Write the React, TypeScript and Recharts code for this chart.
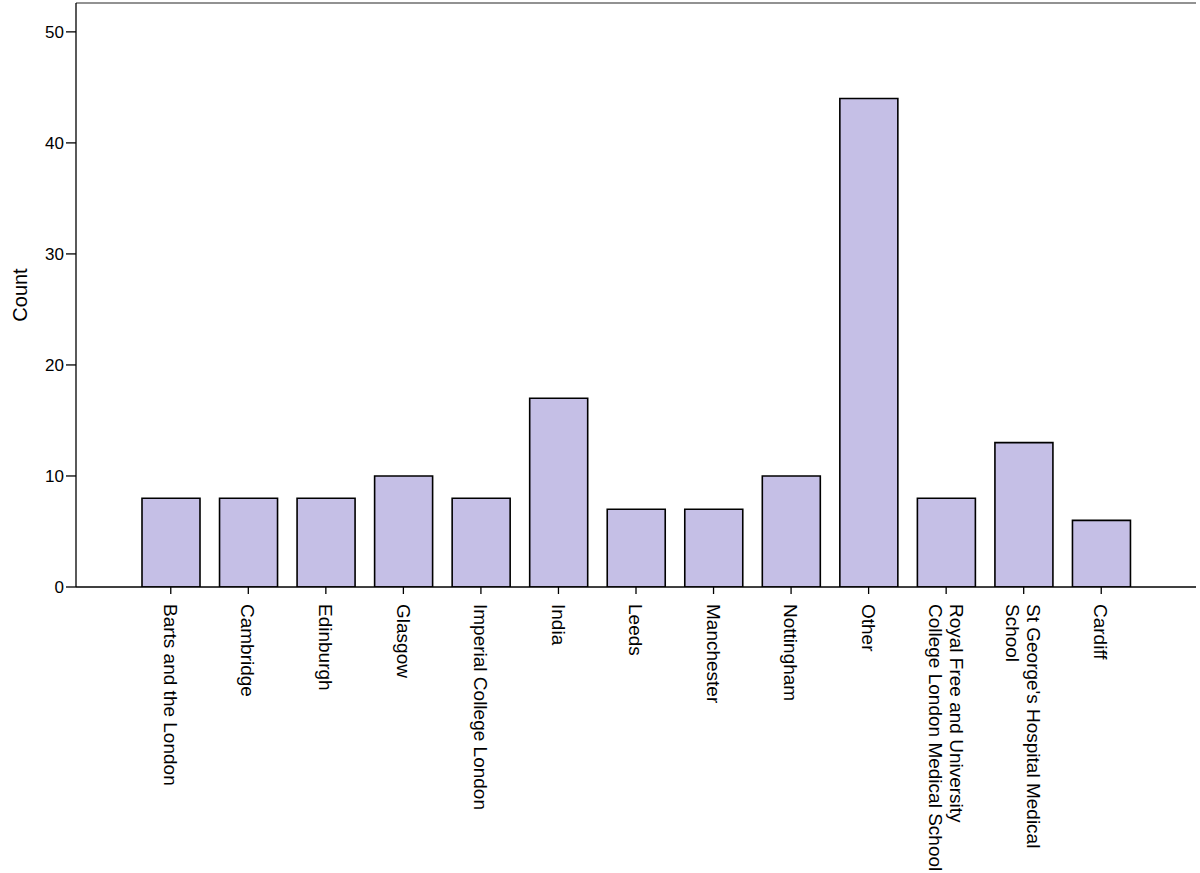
import React from "react";
import { BarChart, Bar, XAxis, YAxis, ReferenceLine } from "recharts";

const categories: string[] = [
  "Barts and the London",
  "Cambridge",
  "Edinburgh",
  "Glasgow",
  "Imperial College London",
  "India",
  "Leeds",
  "Manchester",
  "Nottingham",
  "Other",
  "Royal Free and University\nCollege London Medical School",
  "St George's Hospital Medical\nSchool",
  "Cardiff",
];
const counts: number[] = [8, 8, 8, 10, 8, 17, 7, 7, 10, 44, 8, 13, 6];
const yTicks: number[] = [0, 10, 20, 30, 40, 50];
const yMax = 52.6;

const data = categories.map((c, i) => ({ name: c, count: counts[i] }));

const FONT = "'Liberation Sans', Arial, sans-serif";

const CatTick = (props: any) => {
  const { x, y, payload } = props;
  const lines: string[] = String(payload.value).split("\n");
  const lh = 21;
  const n = lines.length;
  return (
    <g transform={`translate(${x},${y + 8}) rotate(90)`}>
      {lines.map((ln, i) => (
        <text
          key={i}
          x={0}
          y={(i - (n - 1) / 2) * lh}
          dy="0.36em"
          textAnchor="start"
          fontFamily={FONT}
          fontSize={19}
          fill="#000"
        >
          {ln}
        </text>
      ))}
    </g>
  );
};

export default function App() {
  return (
    <div style={{ position: "absolute", left: 0, top: 0, width: 1200, height: 873, background: "#fff" }}>
      <BarChart
        width={1200}
        height={873}
        data={data}
        margin={{ top: 3, right: 4, left: 0, bottom: 0 }}
        barSize={58}
      >
        <XAxis
          xAxisId="main"
          dataKey="name"
          interval={0}
          height={286}
          padding={{ left: 56, right: 56 }}
          axisLine={{ stroke: "#000", strokeWidth: 1.3 }}
          tickLine={{ stroke: "#000", strokeWidth: 1.3 }}
          tickSize={7}
          tick={<CatTick />}
        />
        <YAxis
          yAxisId="main"
          width={76}
          domain={[0, yMax]}
          ticks={yTicks}
          allowDataOverflow
          axisLine={{ stroke: "#000", strokeWidth: 1.3 }}
          tickLine={{ stroke: "#000", strokeWidth: 1.3 }}
          tickSize={10}
          tickMargin={2}
          tick={{ fontFamily: FONT, fontSize: 17, fill: "#000" }}
          label={{
            value: "Count",
            angle: -90,
            position: "insideLeft",
            offset: 0,
            dx: 20,
            style: { fontFamily: FONT, fontSize: 20, fill: "#000", textAnchor: "middle" },
          }}
        />
        <YAxis
          yAxisId="right"
          orientation="right"
          width={0}
          domain={[0, yMax]}
          tick={false}
          tickLine={false}
          axisLine={{ stroke: "#6e6e6e", strokeWidth: 1.3 }}
        />
        <ReferenceLine
          xAxisId="main"
          yAxisId="main"
          y={yMax}
          stroke="#6e6e6e"
          strokeWidth={1.3}
        />
        <Bar
          xAxisId="main"
          yAxisId="main"
          dataKey="count"
          fill="#c5bfe6"
          stroke="#000"
          strokeWidth={1.6}
          isAnimationActive={false}
        />
      </BarChart>
    </div>
  );
}
